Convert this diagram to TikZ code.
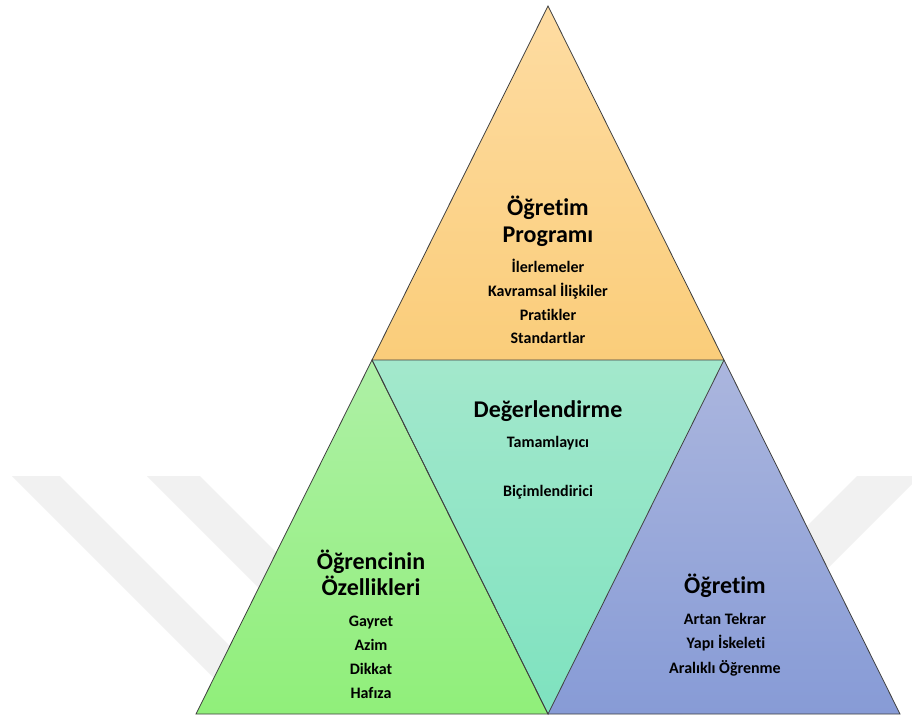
\documentclass[tikz,border=0pt]{standalone}
\usepackage{fontspec}
\setmainfont[Ligatures={NoCommon}]{Carlito}
\definecolor{progtop}{HTML}{FEDCA2}
\definecolor{progbot}{HTML}{FACD7A}
\definecolor{evaltop}{HTML}{A3E8CC}
\definecolor{evalbot}{HTML}{7EE2BF}
\definecolor{learntop}{HTML}{AEF0A6}
\definecolor{learnbot}{HTML}{90EF7A}
\definecolor{teachtop}{HTML}{ABB6DE}
\definecolor{teachbot}{HTML}{879BD6}
\definecolor{wmgray}{HTML}{F1F1F1}
\definecolor{edgegray}{HTML}{404040}
\begin{document}
\begin{tikzpicture}[x=1pt,y=-1pt,
  edge/.style={draw=edgegray, line width=0.8pt, line join=miter},
  wmband/.style={fill=wmgray, draw=none},
  title/.style={font=\bfseries\fontsize{24}{26}\selectfont, anchor=base, inner sep=0pt},
  item/.style={font=\bfseries\fontsize{16}{18}\selectfont, anchor=base, inner sep=0pt}]
\useasboundingbox (0,0) rectangle (912,718);
\fill[white] (0,0) rectangle (912,718);

% faint background bands
\begin{scope}
\clip (0,0) rectangle (912,718);
\fill[wmband] (12,476) -- (60,476) -- (298,714) -- (250,714) -- cycle;
\fill[wmband] (147,476) -- (200,476) -- (438,714) -- (385,714) -- cycle;
\fill[wmband] (857,476) -- (920,476) -- (682,714) -- (619,714) -- cycle;
\end{scope}

% corner points of the pyramid
\coordinate (apex) at (548,6);
\coordinate (ml) at (372,360);
\coordinate (mr) at (724,360);
\coordinate (bl) at (196,714);
\coordinate (bm) at (548,714);
\coordinate (br) at (900,714);

% coloured faces
\shade[top color=progtop, bottom color=progbot] (apex) -- (ml) -- (mr) -- cycle;
\shade[top color=evaltop, bottom color=evalbot] (ml) -- (mr) -- (bm) -- cycle;
\shade[top color=learntop, bottom color=learnbot] (ml) -- (bl) -- (bm) -- cycle;
\shade[top color=teachtop, bottom color=teachbot] (mr) -- (bm) -- (br) -- cycle;

% outlines
\draw[edge] (apex) -- (ml) -- (mr) -- cycle;
\draw[edge] (ml) -- (bm) -- (mr);
\draw[edge] (ml) -- (bl) -- (bm) -- cycle;
\draw[edge] (mr) -- (br) -- (bm);

% curriculum
\node[title] (progA) at (548,215) {Öğretim};
\node[title] (progB) at (548,242) {Programı};
\node[item] (prog1) at (548,272) {İlerlemeler};
\node[item] (prog2) at (548,296) {Kavramsal İlişkiler};
\node[item] (prog3) at (548,320) {Pratikler};
\node[item] (prog4) at (548,343) {Standartlar};

% assessment
\node[title] (evalA) at (548,417) {Değerlendirme};
\node[item] (eval1) at (548,447) {Tamamlayıcı};
\node[item] (eval2) at (548,496) {Biçimlendirici};

% learner characteristics
\node[title] (learnA) at (371,569) {Öğrencinin};
\node[title] (learnB) at (371,595) {Özellikleri};
\node[item] (learn1) at (371,626) {Gayret};
\node[item] (learn2) at (371,650) {Azim};
\node[item] (learn3) at (371,674) {Dikkat};
\node[item] (learn4) at (371,698) {Hafıza};

% instruction
\node[title] (teachA) at (725,593) {Öğretim};
\node[item] (teach1) at (725,624) {Artan Tekrar};
\node[item] (teach2) at (726,648) {Yapı İskeleti};
\node[item] (teach3) at (725,673) {Aralıklı Öğrenme};
\end{tikzpicture}
\end{document}
